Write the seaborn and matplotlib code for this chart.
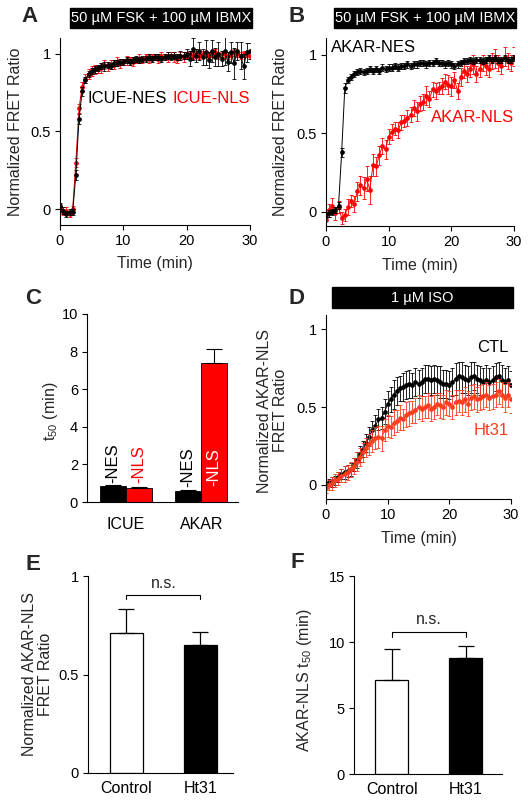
import numpy as np
import pandas as pd
import matplotlib
matplotlib.use("Agg")
import matplotlib.pyplot as plt
import seaborn as sns

# sampling grid of the time courses (min)
time_min = np.arange(0, 30.5, 0.5)

# A: ICUE traces
icue_nes = [0.02, -0.01, -0.03, -0.02, -0.02, 0.22, 0.58, 0.76, 0.83, 0.87,
            0.89, 0.90, 0.91, 0.92, 0.92, 0.93, 0.92, 0.94, 0.94, 0.95,
            0.95, 0.96, 0.95, 0.96, 0.97, 0.96, 0.97, 0.97, 0.98, 0.97,
            0.98, 0.98, 0.97, 0.98, 0.99, 0.98, 0.99, 0.98, 0.99, 0.99,
            1.00, 0.97, 1.03, 0.99, 1.02, 0.98, 1.01, 0.96, 1.02, 0.98,
            1.00, 0.97, 1.02, 0.95, 1.01, 0.94, 1.02, 0.99, 0.92, 1.01,
            1.02]
icue_nes_err = [0.02, 0.02, 0.02, 0.02, 0.02, 0.03, 0.03, 0.03, 0.02, 0.02,
                0.02, 0.02, 0.02, 0.02, 0.03, 0.02, 0.02, 0.02, 0.02, 0.02,
                0.02, 0.02, 0.02, 0.02, 0.02, 0.02, 0.02, 0.02, 0.02, 0.02,
                0.02, 0.02, 0.02, 0.02, 0.02, 0.02, 0.02, 0.02, 0.03, 0.02,
                0.03, 0.05, 0.07, 0.04, 0.06, 0.05, 0.08, 0.05, 0.07, 0.06,
                0.08, 0.05, 0.09, 0.06, 0.07, 0.10, 0.06, 0.09, 0.08, 0.06,
                0.05]
icue_nls = [0.01, -0.02, -0.01, -0.03, 0.00, 0.30, 0.65, 0.79, 0.84, 0.87,
            0.89, 0.90, 0.90, 0.91, 0.93, 0.92, 0.93, 0.93, 0.95, 0.94,
            0.95, 0.96, 0.96, 0.95, 0.96, 0.97, 0.96, 0.98, 0.97, 0.98,
            0.98, 0.97, 0.99, 0.98, 0.98, 0.99, 0.98, 0.97, 0.99, 0.98,
            0.99, 1.00, 0.99, 1.00, 0.99, 1.00, 1.00, 0.99, 1.00, 1.01,
            0.99, 1.00, 1.00, 0.99, 1.00, 1.01, 1.00, 0.99, 1.00, 1.00,
            0.99]
icue_nls_err = [0.02, 0.02, 0.02, 0.02, 0.02, 0.03, 0.03, 0.03, 0.03, 0.03,
                0.03, 0.03, 0.02, 0.03, 0.03, 0.03, 0.03, 0.03, 0.03, 0.03,
                0.02, 0.03, 0.02, 0.03, 0.02, 0.03, 0.02, 0.02, 0.03, 0.02,
                0.02, 0.03, 0.02, 0.02, 0.03, 0.02, 0.03, 0.03, 0.02, 0.03,
                0.02, 0.02, 0.02, 0.02, 0.02, 0.02, 0.02, 0.02, 0.02, 0.02,
                0.02, 0.02, 0.02, 0.02, 0.02, 0.02, 0.02, 0.02, 0.02, 0.02,
                0.02]

# B: AKAR traces
akar_nes = [-0.02, -0.01, 0.00, 0.01, 0.04, 0.38, 0.79, 0.84, 0.86, 0.88,
            0.89, 0.90, 0.89, 0.90, 0.91, 0.90, 0.91, 0.90, 0.92, 0.91,
            0.92, 0.92, 0.93, 0.92, 0.93, 0.93, 0.94, 0.93, 0.94, 0.94,
            0.95, 0.95, 0.94, 0.95, 0.95, 0.96, 0.95, 0.95, 0.94, 0.95,
            0.94, 0.93, 0.94, 0.95, 0.96, 0.96, 0.97, 0.96, 0.97, 0.97,
            0.96, 0.97, 0.98, 0.97, 0.98, 0.97, 0.97, 0.98, 0.97, 0.97,
            0.98]
akar_nes_err = [0.02, 0.02, 0.02, 0.02, 0.02, 0.03, 0.03, 0.02, 0.02, 0.02,
                0.02, 0.02, 0.02, 0.02, 0.02, 0.02, 0.02, 0.02, 0.02, 0.02,
                0.02, 0.02, 0.02, 0.02, 0.02, 0.02, 0.02, 0.02, 0.02, 0.02,
                0.02, 0.02, 0.02, 0.02, 0.02, 0.02, 0.02, 0.02, 0.02, 0.02,
                0.02, 0.02, 0.02, 0.02, 0.02, 0.02, 0.02, 0.02, 0.02, 0.02,
                0.02, 0.02, 0.02, 0.02, 0.02, 0.02, 0.02, 0.02, 0.02, 0.02,
                0.02]
akar_nls = [-0.05, 0.01, 0.04, -0.01, 0.03, -0.04, -0.02, 0.03, 0.07, 0.05,
            0.13, 0.17, 0.15, 0.21, 0.14, 0.30, 0.29, 0.36, 0.42, 0.40,
            0.48, 0.51, 0.53, 0.52, 0.57, 0.58, 0.60, 0.62, 0.66, 0.64,
            0.69, 0.70, 0.74, 0.72, 0.78, 0.77, 0.79, 0.80, 0.83, 0.81,
            0.80, 0.84, 0.77, 0.86, 0.90, 0.88, 0.91, 0.94, 0.88, 0.91,
            0.95, 0.93, 0.91, 0.96, 0.98, 0.95, 0.93, 0.99, 0.96, 0.95,
            0.99]
akar_nls_err = [0.04, 0.04, 0.05, 0.04, 0.04, 0.04, 0.04, 0.05, 0.04, 0.05,
                0.06, 0.06, 0.07, 0.08, 0.09, 0.07, 0.06, 0.06, 0.05, 0.06,
                0.05, 0.05, 0.04, 0.05, 0.05, 0.04, 0.05, 0.05, 0.05, 0.06,
                0.05, 0.05, 0.06, 0.05, 0.05, 0.05, 0.04, 0.05, 0.05, 0.06,
                0.06, 0.05, 0.05, 0.06, 0.05, 0.05, 0.05, 0.06, 0.05, 0.05,
                0.05, 0.06, 0.05, 0.05, 0.06, 0.05, 0.05, 0.06, 0.05, 0.05,
                0.06]

# C: t50 bars
c_sensor = ['ICUE', 'ICUE', 'AKAR', 'AKAR']
c_loc = ['NES', 'NLS', 'NES', 'NLS']
c_t50 = [0.85, 0.75, 0.60, 7.40]
c_t50_err = [0.05, 0.05, 0.03, 0.75]

# D: AKAR-NLS with ISO, control vs Ht31
ctl = [0.00, 0.02, 0.02, 0.03, 0.05, 0.07, 0.08, 0.09, 0.10, 0.13,
       0.16, 0.20, 0.23, 0.27, 0.31, 0.35, 0.38, 0.42, 0.43, 0.47,
       0.52, 0.55, 0.58, 0.60, 0.62, 0.63, 0.64, 0.65, 0.64, 0.66,
       0.65, 0.66, 0.68, 0.68, 0.67, 0.68, 0.67, 0.66, 0.65, 0.65,
       0.64, 0.66, 0.68, 0.70, 0.69, 0.68, 0.67, 0.69, 0.70, 0.68,
       0.67, 0.66, 0.67, 0.66, 0.67, 0.69, 0.70, 0.67, 0.66, 0.67,
       0.64]
ctl_err = [0.02, 0.02, 0.03, 0.03, 0.03, 0.03, 0.04, 0.04, 0.04, 0.04,
           0.05, 0.05, 0.05, 0.06, 0.06, 0.06, 0.07, 0.07, 0.07, 0.08,
           0.08, 0.08, 0.09, 0.09, 0.08, 0.09, 0.09, 0.09, 0.08, 0.09,
           0.09, 0.09, 0.09, 0.09, 0.09, 0.09, 0.09, 0.10, 0.09, 0.09,
           0.09, 0.09, 0.10, 0.09, 0.10, 0.09, 0.09, 0.10, 0.09, 0.09,
           0.09, 0.09, 0.10, 0.09, 0.09, 0.09, 0.09, 0.10, 0.09, 0.09,
           0.09]
ht31 = [-0.02, 0.00, 0.01, 0.03, 0.04, 0.06, 0.07, 0.08, 0.10, 0.12,
        0.15, 0.18, 0.21, 0.24, 0.26, 0.28, 0.30, 0.31, 0.30, 0.35,
        0.38, 0.37, 0.40, 0.41, 0.43, 0.42, 0.45, 0.46, 0.47, 0.48,
        0.50, 0.49, 0.50, 0.51, 0.49, 0.50, 0.52, 0.51, 0.50, 0.53,
        0.52, 0.50, 0.53, 0.54, 0.53, 0.55, 0.52, 0.56, 0.57, 0.55,
        0.56, 0.57, 0.58, 0.56, 0.57, 0.58, 0.60, 0.58, 0.56, 0.58,
        0.55]
ht31_err = [0.03, 0.03, 0.04, 0.04, 0.04, 0.04, 0.05, 0.05, 0.05, 0.05,
            0.06, 0.06, 0.06, 0.06, 0.07, 0.07, 0.07, 0.07, 0.08, 0.07,
            0.07, 0.07, 0.08, 0.07, 0.08, 0.07, 0.08, 0.08, 0.07, 0.08,
            0.08, 0.08, 0.07, 0.08, 0.08, 0.08, 0.07, 0.08, 0.08, 0.08,
            0.08, 0.08, 0.08, 0.07, 0.08, 0.08, 0.08, 0.08, 0.08, 0.08,
            0.08, 0.08, 0.08, 0.08, 0.08, 0.08, 0.08, 0.08, 0.09, 0.08,
            0.09]

# E/F: summary bars
groups = ['Control', 'Ht31']
fret_amp = [0.71, 0.65]
fret_amp_err = [0.12, 0.065]
nls_t50 = [7.15, 8.80]
nls_t50_err = [2.30, 0.90]

RED = '#ff0000'
RED_D = '#ff3c1e'

sns.set_style("ticks")
plt.rcParams['font.family'] = ['Liberation Sans', 'DejaVu Sans']
plt.rcParams['font.size'] = 10.5
plt.rcParams['mathtext.default'] = 'regular'
plt.rcParams['axes.linewidth'] = 0.8
plt.rcParams['axes.edgecolor'] = 'black'

W, H = 528, 802
fig = plt.figure(figsize=(W / 100, H / 100), dpi=100)


def rect(l, t, r, b):
    return [l / W, 1 - b / H, (r - l) / W, (b - t) / H]


def style(ax):
    sns.despine(ax=ax)
    ax.tick_params(length=3.5, width=0.8, pad=3, labelsize=10.5, colors='black')


def trace(ax, y, err, color):
    ax.errorbar(time_min, y, yerr=err, fmt='none', ecolor=color,
                elinewidth=0.6, capsize=1.2, capthick=0.6)
    sns.lineplot(x=time_min, y=y, ax=ax, color=color, estimator=None,
                 marker='o', markersize=3.4, markeredgewidth=0, linewidth=0.7)


def black_box(l, t, r, b, text):
    fig.add_artist(plt.Rectangle((l / W, 1 - b / H), (r - l) / W, (b - t) / H,
                                 transform=fig.transFigure, color='black'))
    fig.text((l + r) / 2 / W, 1 - (t + b) / 2 / H, text, color='white',
             ha='center', va='center', fontsize=10.5)


def time_axis(ax, ylo, yhi):
    ax.set_xlim(0, 30)
    ax.set_ylim(ylo, yhi)
    ax.set_xticks([0, 10, 20, 30])
    ax.set_yticks([0, 0.5, 1])
    ax.set_yticklabels(['0', '0.5', '1'])
    ax.set_xlabel('Time (min)', fontsize=11.5)
    style(ax)


# ---- A ----
axA = fig.add_axes(rect(60, 38, 250, 225))
trace(axA, icue_nls, icue_nls_err, RED)
trace(axA, icue_nes, icue_nes_err, 'black')
time_axis(axA, -0.103, 1.103)
axA.set_ylabel('Normalized FRET Ratio', fontsize=11.5)
axA.yaxis.set_label_coords(-0.193, 0.5)
axA.xaxis.set_label_coords(0.5, -0.168)
axA.text(4.4, 0.71, 'ICUE-NES', color='black', fontsize=12, ha='left', va='center')
axA.text(30, 0.71, 'ICUE-NLS', color=RED, fontsize=12, ha='right', va='center')

# ---- B ----
axB = fig.add_axes(rect(326, 38, 514, 226))
trace(axB, akar_nls, akar_nls_err, RED)
trace(axB, akar_nes, akar_nes_err, 'black')
time_axis(axB, -0.09, 1.108)
axB.set_ylabel('Normalized FRET Ratio', fontsize=11.5)
axB.yaxis.set_label_coords(-0.2, 0.5)
axB.xaxis.set_label_coords(0.5, -0.168)
axB.text(0.8, 1.045, 'AKAR-NES', color='black', fontsize=12, ha='left', va='center')
axB.text(16.7, 0.6, 'AKAR-NLS', color=RED, fontsize=12, ha='left', va='center')

# ---- C ----
axC = fig.add_axes(rect(87, 314, 238, 502))
df_c = pd.DataFrame({'sensor': c_sensor, 'loc': c_loc, 't50': c_t50})
bw = 0.69
sns.barplot(data=df_c, x='sensor', y='t50', hue='loc', order=['ICUE', 'AKAR'],
            hue_order=['NES', 'NLS'], palette=['black', RED], width=bw, saturation=1,
            edgecolor='black', linewidth=0.6, errorbar=None, legend=False, ax=axC)
order = ['ICUE', 'AKAR']
xs = [order.index(s) + (-bw / 4 if l == 'NES' else bw / 4) for s, l in zip(c_sensor, c_loc)]
axC.errorbar(xs, c_t50, yerr=[[0] * 4, c_t50_err], fmt='none', ecolor='black',
             elinewidth=0.8, capsize=6, capthick=0.8)
axC.set_xlim(-0.52, 1.49)
axC.set_ylim(0, 10)
axC.set_yticks([0, 2, 4, 6, 8, 10])
axC.set_xlabel('')
axC.set_ylabel('t$_{50}$ (min)', fontsize=11.5)
axC.yaxis.set_label_coords(-0.18, 0.48)
style(axC)
axC.tick_params(axis='x', length=0, pad=11, labelsize=11.5)
bar_txt = [(xs[0], 1.0, '-NES', 'black'), (xs[1], 1.0, '-NLS', RED),
           (xs[2], 0.8, '-NES', 'black'), (xs[3], 0.85, '-NLS', 'white')]
for x, y, s, c in bar_txt:
    axC.text(x, y, s, rotation=90, color=c, ha='center', va='bottom', fontsize=12)

# ---- D ----
axD = fig.add_axes(rect(326, 315, 511, 499))
trace(axD, ctl, ctl_err, 'black')
trace(axD, ht31, ht31_err, RED_D)
time_axis(axD, -0.09, 1.09)
axD.set_ylabel('Normalized AKAR-NLS\nFRET Ratio', fontsize=11.5, linespacing=1.1)
axD.yaxis.set_label_coords(-0.203, 0.48)
axD.xaxis.set_label_coords(0.5, -0.174)
axD.text(29.6, 0.88, 'CTL', color='black', fontsize=12, ha='right', va='center')
axD.text(29.6, 0.35, 'Ht31', color=RED_D, fontsize=12, ha='right', va='center')


# ---- E / F ----
def summary(ax, vals, errs, ylim, yticks, yticklabels, bracket, ns_y):
    df = pd.DataFrame({'group': groups, 'val': vals})
    sns.barplot(data=df, x='group', y='val', hue='group', palette=['white', 'black'],
                width=0.45, saturation=1, edgecolor='black', linewidth=0.9,
                errorbar=None, legend=False, ax=ax)
    ax.errorbar([0, 1], vals, yerr=[[0, 0], errs], fmt='none', ecolor='black',
                elinewidth=0.9, capsize=6, capthick=0.9)
    ax.set_ylim(*ylim)
    ax.set_yticks(yticks)
    ax.set_yticklabels(yticklabels)
    ax.set_xlabel('')
    style(ax)
    ax.tick_params(axis='x', length=0, pad=6, labelsize=11.5)
    top, low = bracket
    ax.plot([0, 0, 1, 1], [low, top, top, low], color='black', lw=0.8)
    ax.text(0.5, ns_y, 'n.s.', ha='center', va='center', fontsize=11.5)


axE = fig.add_axes(rect(88, 576, 233, 773))
summary(axE, fret_amp, fret_amp_err, (0, 1), [0, 0.5, 1], ['0', '0.5', '1'],
        (0.904, 0.883), 0.96)
axE.set_xlim(-0.52, 1.44)
axE.set_ylabel('Normalized AKAR-NLS\nFRET Ratio', fontsize=11.5, linespacing=1.1)
axE.yaxis.set_label_coords(-0.238, 0.5)

axF = fig.add_axes(rect(354, 576, 502, 774))
summary(axF, nls_t50, nls_t50_err, (0, 15), [0, 5, 10, 15], ['0', '5', '10', '15'],
        (10.78, 10.4), 11.7)
axF.set_xlim(-0.51, 1.49)
axF.set_ylabel('AKAR-NLS t$_{50}$ (min)', fontsize=11.5)
axF.yaxis.set_label_coords(-0.267, 0.475)

# stimulus bars and panel letters
black_box(70, 8, 252, 28, '50 µM FSK + 100 µM IBMX')
black_box(334, 8, 516, 28, '50 µM FSK + 100 µM IBMX')
black_box(332, 287, 513, 308, '1 µM ISO')

for lab, px, py in [('A', 30, 16), ('B', 297, 16), ('C', 33, 298),
                    ('D', 297, 298), ('E', 33, 565), ('F', 297, 563)]:
    fig.text(px / W, 1 - py / H, lab, fontsize=16, fontweight='bold',
             ha='center', va='center')

fig.savefig('out.png', dpi=100)
